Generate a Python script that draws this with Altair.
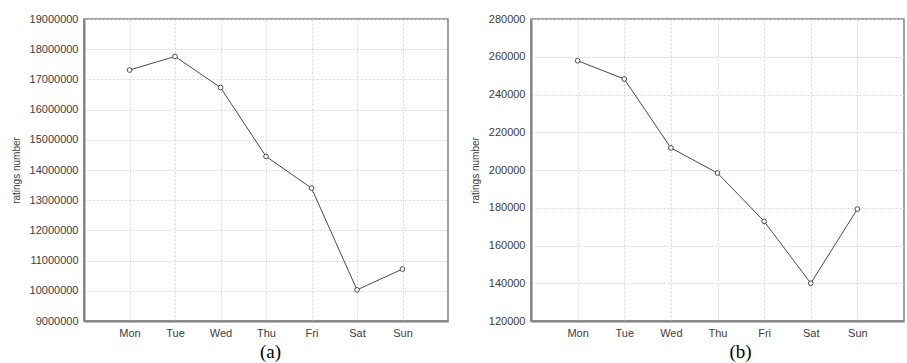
import altair as alt
import pandas as pd

days = ["Mon", "Tue", "Wed", "Thu", "Fri", "Sat", "Sun"]
ratings_a = [17310000, 17760000, 16730000, 14450000, 13400000, 10030000, 10720000]
ratings_b = [257900, 248200, 211700, 198400, 172800, 140000, 179300]

ticks_a = list(range(9000000, 19000001, 1000000))
ticks_b = list(range(120000, 280001, 20000))

LABEL_FONT = "Liberation Sans"
INK = "#4a4a4a"


def panel(values, ticks, title, title_x, width):
    df = pd.DataFrame({"day": days, "ratings": values})
    x = alt.X(
        "day:N",
        sort=days,
        scale=alt.Scale(type="point", padding=1),
        axis=alt.Axis(
            title=title,
            titleX=title_x,
            titleFont="Liberation Serif",
            titleFontSize=19,
            titleFontWeight="normal",
            titleColor="black",
            titlePadding=4,
            labelAngle=0,
            labelPadding=6,
            tickSize=0,
            grid=True,
        ),
    )
    y = alt.Y(
        "ratings:Q",
        scale=alt.Scale(domain=[ticks[0], ticks[-1]], nice=False, zero=False),
        axis=alt.Axis(
            values=ticks,
            format="d",
            title="ratings number",
            titleFont=LABEL_FONT,
            titleFontSize=10,
            titleFontWeight="normal",
            titleColor="#3c3c3c",
            titlePadding=8,
            labelPadding=6,
            tickSize=0,
            grid=True,
        ),
    )
    base = alt.Chart(df).encode(x=x, y=y)
    line = base.mark_line(color=INK, strokeWidth=1)
    pts = base.mark_point(
        shape="circle", filled=True, fill="white", stroke=INK,
        strokeWidth=1, size=22, opacity=1,
    )
    return (line + pts).properties(width=width, height=302)


chart_a = panel(ratings_a, ticks_a, "(a)", 186, 364)
chart_b = panel(ratings_b, ticks_b, "(b)", 209, 373)

chart = (
    alt.hconcat(chart_a, chart_b, spacing=20)
    .properties(padding={"left": 10, "top": 12, "right": 0, "bottom": 0})
    .configure_view(stroke="#808080", strokeWidth=1.5)
    .configure_axis(
        labelFont=LABEL_FONT,
        labelFontSize=11,
        labelColor="#3c3c3c",
        gridColor="#d4d4d4",
        gridDash=[2, 2],
        gridWidth=1,
        domainColor="#808080",
        domainWidth=2,
    )
)

chart.save("out.html", embed_options={"renderer": "svg", "actions": False})
